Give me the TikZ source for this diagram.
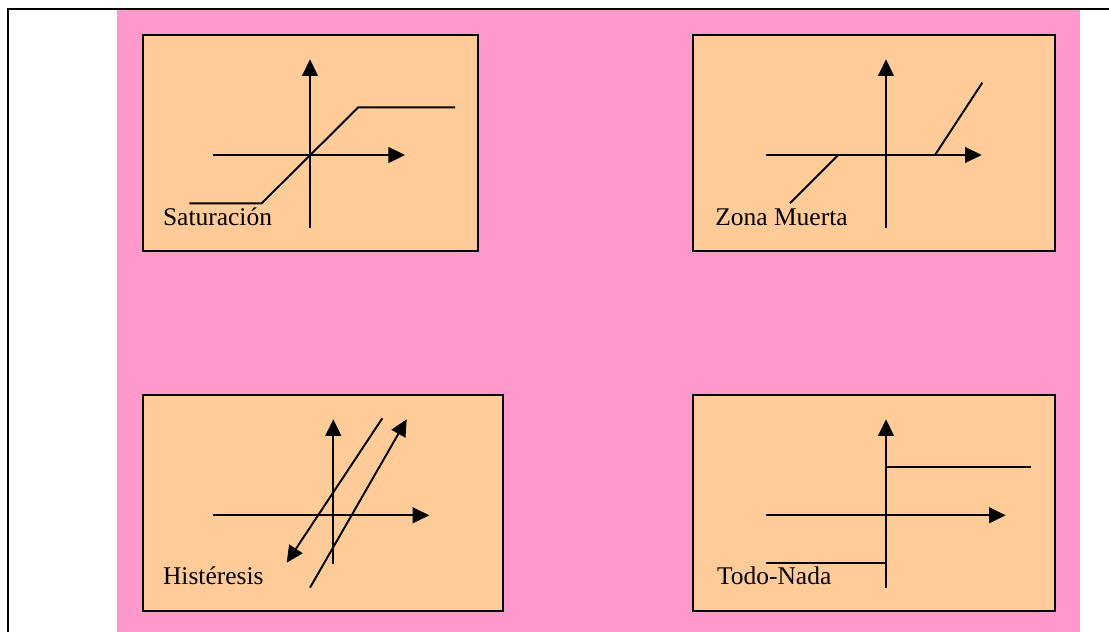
\documentclass[tikz,border=0pt]{standalone}
\usepackage{fontspec}
\setmainfont{Liberation Serif}
\usetikzlibrary{arrows.meta}
\definecolor{rosa}{HTML}{FF99CC}
\definecolor{melocoton}{HTML}{FFCC99}

\begin{document}
\begin{tikzpicture}[
    x=0.02cm, y=-0.02cm,
    panel/.style={draw=black, fill=melocoton, line width=1.1pt},
    axis/.style={-{Triangle[length=9.5pt, width=9pt]}, line width=1.1pt},
    curve/.style={line width=1.1pt},
    lbl/.style={anchor=base west, inner sep=0pt, font=\fontsize{14.5}{17}\selectfont}
]
\useasboundingbox (0,0) rectangle (1109,632);

% Background and frame
\fill[rosa] (117,9) rectangle (1080,632);
\draw[line width=1.1pt] (1109,9) -- (8,9) -- (8,632);

% Saturacion
\draw[panel] (142.7,35) rectangle (478,250.7);
\draw[axis] (310,227.7) -- (310,59.3);
\draw[axis] (213.3,155) -- (405,155);
\draw[curve] (189.3,203.3) -- (261.7,203.3) -- (358.3,107.3) -- (455,107.3);
\node[lbl] (sat) at (162.7,225.3) {Saturación};

% Zona muerta
\draw[panel] (693.3,35) rectangle (1055,250.7);
\draw[axis] (886,227.7) -- (886,59.3);
\draw[axis] (766,155) -- (981.7,155);
\draw[curve] (790,203.3) -- (838.3,155);
\draw[curve] (935,155) -- (982.3,82.7);
\node[lbl] (zm) at (715,225) {Zona Muerta};

% Histeresis
\draw[panel] (142.7,395) rectangle (502.7,610.7);
\draw[axis] (333.3,564) -- (333.3,419.3);
\draw[axis] (213.3,515.3) -- (429.3,515.3);
\draw[axis] (382.3,418.3) -- (286.7,562.7);
\draw[axis] (310,587.7) -- (406.7,419.3);
\node[lbl] (his) at (162.7,584.3) {Histéresis};

% Todo-nada
\draw[panel] (693.3,395) rectangle (1055,610.7);
\draw[axis] (886,587.7) -- (886,419.3);
\draw[axis] (766,515.3) -- (1005.7,515.3);
\draw[curve] (886,467.3) -- (1030.7,467.3);
\draw[curve] (766,563.3) -- (886,563.3);
\node[lbl] (tn) at (716.7,584.3) {Todo-Nada};
\end{tikzpicture}
\end{document}
